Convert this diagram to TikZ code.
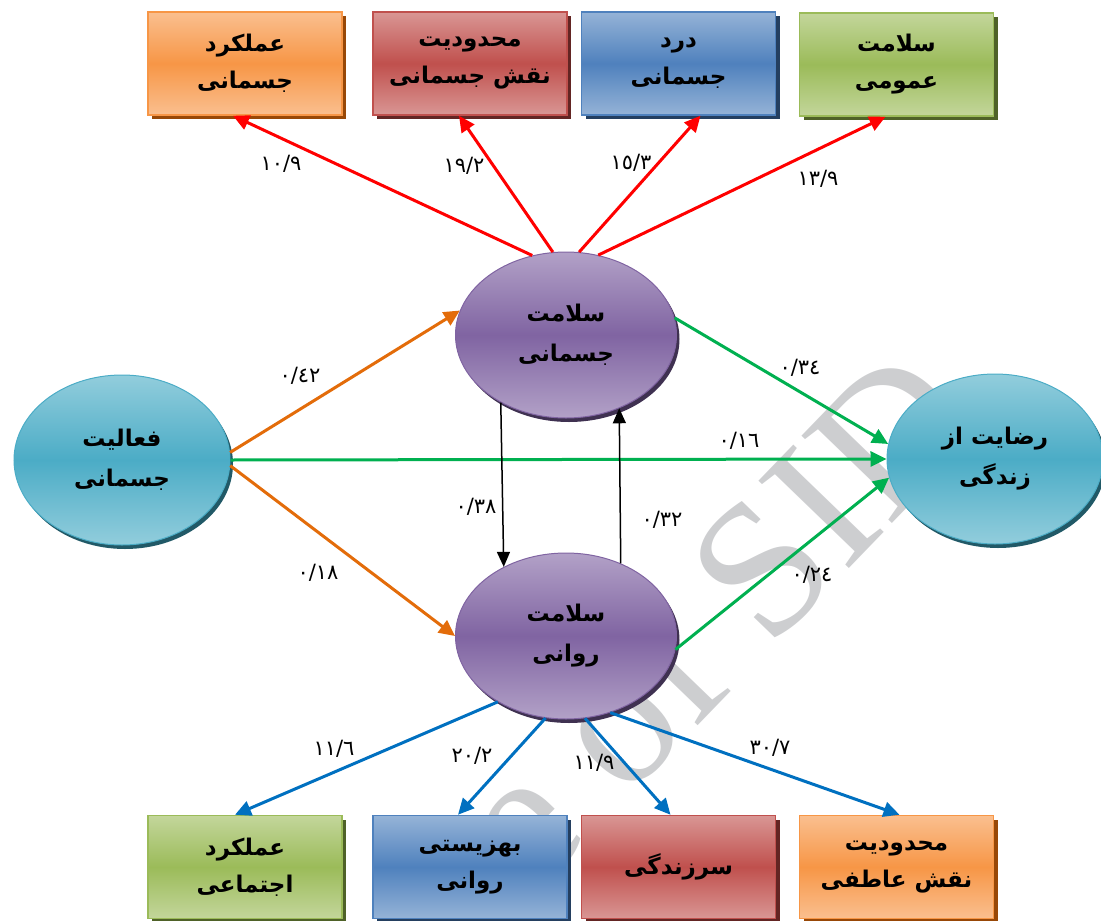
\documentclass[tikz,border=0pt]{standalone}
\usepackage{fontspec}
\usetikzlibrary{arrows.meta,shapes.geometric,shadows}
\TeXXeTstate=1
\newfontfamily\arabicfont[Script=Arabic]{DejaVu Sans}
\newfontfamily\wmfont{Liberation Serif}
\newcommand\fa[1]{\beginR #1\endR}
\definecolor{orL}{HTML}{FABF8F}\definecolor{orC}{HTML}{F79646}\definecolor{orS}{HTML}{984807}
\definecolor{reL}{HTML}{D99694}\definecolor{reC}{HTML}{C0504D}\definecolor{reS}{HTML}{632523}
\definecolor{blL}{HTML}{95B3D7}\definecolor{blC}{HTML}{4F81BD}\definecolor{blS}{HTML}{243F60}
\definecolor{grL}{HTML}{C3D69B}\definecolor{grC}{HTML}{9BBB59}\definecolor{grS}{HTML}{4F6228}
\definecolor{puL}{HTML}{B2A1C7}\definecolor{puC}{HTML}{8064A2}\definecolor{puS}{HTML}{3F3151}
\definecolor{teL}{HTML}{92CDDC}\definecolor{teC}{HTML}{4BACC6}\definecolor{teS}{HTML}{215967}
\definecolor{arRed}{HTML}{FF0000}\definecolor{arOr}{HTML}{E36C0A}\definecolor{arGr}{HTML}{00B050}
\definecolor{arBl}{HTML}{0070C0}\definecolor{wm}{HTML}{CDCED0}
\begin{document}
\begin{tikzpicture}[x=1pt,y=-1pt,
  boxnode/.style={rectangle, minimum width=194pt, minimum height=103pt, line width=1.5pt,
    align=center, inner sep=0pt, font=\arabicfont\bfseries\fontsize{23}{37}\selectfont},
  orbox/.style={boxnode, draw=orC, top color=orL, bottom color=orL, middle color=orC,
    drop shadow={shadow xshift=4pt, shadow yshift=-4pt, fill=orS, opacity=1}},
  rebox/.style={boxnode, draw=reC, top color=reL, bottom color=reL, middle color=reC,
    drop shadow={shadow xshift=4pt, shadow yshift=-4pt, fill=reS, opacity=1}},
  blbox/.style={boxnode, draw=blC, top color=blL, bottom color=blL, middle color=blC,
    drop shadow={shadow xshift=4pt, shadow yshift=-4pt, fill=blS, opacity=1}},
  grbox/.style={boxnode, draw=grC, top color=grL, bottom color=grL, middle color=grC,
    drop shadow={shadow xshift=4pt, shadow yshift=-4pt, fill=grS, opacity=1}},
  ellnode/.style={ellipse, inner sep=0pt, align=center, line width=1pt,
    font=\arabicfont\bfseries\fontsize{23}{40}\selectfont},
  puell/.style={ellnode, minimum width=221pt, minimum height=166pt, draw=puC,
    top color=puL, bottom color=puL, middle color=puC,
    drop shadow={shadow xshift=3pt, shadow yshift=-4pt, fill=puS, opacity=1}},
  teell/.style={ellnode, minimum width=216pt, minimum height=170pt, draw=teC,
    top color=teL, bottom color=teL, middle color=teC,
    drop shadow={shadow xshift=3pt, shadow yshift=-4pt, fill=teS, opacity=1}},
  num/.style={font=\arabicfont\fontsize{21}{23}\selectfont, inner sep=1pt},
  conn/.style={line width=3pt, -{Triangle[length=16pt,width=15pt]}},
  blk/.style={line width=1.5pt, -{Triangle[length=15pt,width=13pt]}}
]
\useasboundingbox (0,0) rectangle (1101,921);
% watermark
\node[wm, font=\wmfont\fontsize{192}{192}\selectfont, rotate=46, anchor=base east, inner sep=0pt] (wmark) at (985,428) {e of SID};

% top boxes
\node[orbox] (t1) at (245,63.5) {\fa{عملکرد}\\\fa{جسمانی}};
\node[rebox] (t2) at (470,63.5) {\fa{محدودیت}\\\fa{نقش  جسمانی}};
\node[blbox] (t3) at (678.5,63.5) {\fa{درد}\\\fa{جسمانی}};
\node[grbox] (t4) at (896.5,64.5) {\fa{سلامت}\\\fa{عمومی}};
% bottom boxes
\node[grbox] (b1) at (245,867) {\fa{عملکرد}\\\fa{اجتماعی}};
\node[blbox] (b2) at (470,867) {\fa{بهزیستی}\\\fa{روانی}};
\node[rebox] (b3) at (678.5,867) {\fa{سرزندگی}};
\node[orbox] (b4) at (896.5,867) {\fa{محدودیت}\\\fa{نقش عاطفی}};
% ellipses
\node[teell] (fa) at (122,460) {\fa{فعالیت}\\\fa{جسمانی}};
\node[puell] (tm) at (566,335) {\fa{سلامت}\\\fa{جسمانی}};
\node[puell] (bm) at (566,636) {\fa{سلامت}\\\fa{روانی}};
\node[teell] (rz) at (995,459) {\fa{رضایت از}\\\fa{زندگی}};

% red arrows
\draw[conn, arRed] (tm.113) -- ([xshift=-12pt]t1.south);
\draw[conn, arRed] (tm.99) -- ([xshift=-11pt]t2.south);
\draw[conn, arRed] (tm.81) -- ([xshift=22pt]t3.south);
\draw[conn, arRed] (tm.68) -- ([xshift=-11pt]t4.south);
% orange
\draw[conn, arOr] (fa.4) -- (tm.167);
\draw[conn, arOr] (fa.-3) -- (bm.180);
% green
\draw[conn, arGr] (fa.east) -- (rz.west);
\draw[conn, arGr] (tm.9) -- (rz.172);
\draw[conn, arGr] (bm.353) -- (rz.190);
% black
\draw[blk] (tm.226) -- (bm.132);
\draw[blk] (bm.53) -- (tm.306);
% blue
\draw[conn, arBl] (bm.224) -- ([xshift=-10pt]b1.north);
\draw[conn, arBl] (bm.256) -- ([xshift=-12pt]b2.north);
\draw[conn, arBl] (bm.283) -- ([xshift=-8pt]b3.north);
\draw[conn, arBl] (bm.300) -- ([xshift=3pt]b4.north);

% labels
\node[num] (n1) at (281,164) {١٠/٩};
\node[num] (n2) at (464,166) {١٩/٢};
\node[num] (n3) at (631,163) {١٥/٣};
\node[num] (n4) at (818,179) {١٣/٩};
\node[num] (n5) at (300,376) {٠/٤٢};
\node[num] (n6) at (318,573) {٠/١٨};
\node[num] (n7) at (739,441) {٠/١٦};
\node[num] (n8) at (800,368) {٠/٣٤};
\node[num] (n9) at (812,575) {٠/٢٤};
\node[num] (n10) at (476,507) {٠/٣٨};
\node[num] (n11) at (662,520) {٠/٣٢};
\node[num] (n12) at (334,749) {١١/٦};
\node[num] (n13) at (472,756) {٢٠/٢};
\node[num] (n14) at (594,763) {١١/٩};
\node[num] (n15) at (770,748) {٣٠/٧};
\end{tikzpicture}
\end{document}
